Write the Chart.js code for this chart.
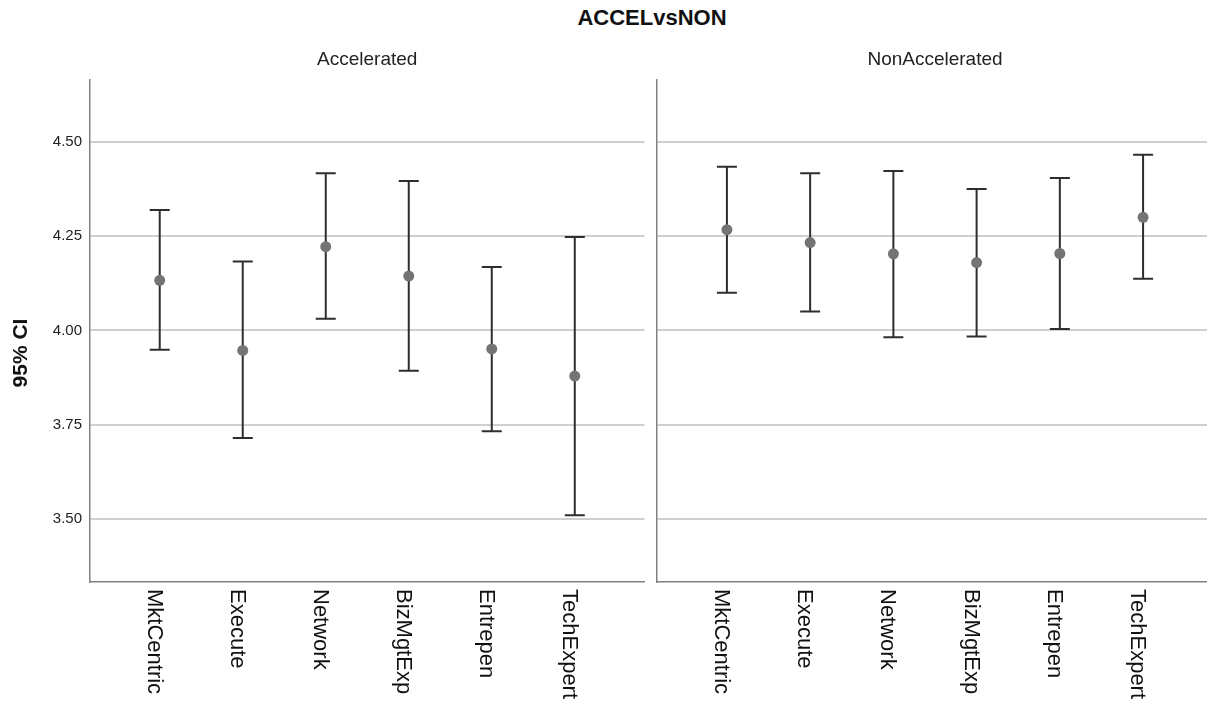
<!DOCTYPE html>
<html>
<head>
<meta charset="utf-8">
<script src="https://cdn.jsdelivr.net/npm/chart.js@4.4.1/dist/chart.umd.min.js"></script>
<style>
  html, body { margin: 0; padding: 0; background: #fff; }
  body { width: 1207px; height: 709px; overflow: hidden; position: relative; }
  #mainTitle {
    position: absolute; left: 652px; top: 5px; transform: translateX(-50%);
    font: bold 22px "Liberation Sans", Arial, sans-serif; color: #111; white-space: nowrap;
  }
  canvas { position: absolute; top: 0; }
  #accelChart { left: 0; }
  #nonChart { left: 650px; }
</style>
</head>
<body>
<div id="mainTitle">ACCELvsNON</div>
<canvas id="accelChart" width="650" height="709"></canvas>
<canvas id="nonChart" width="570" height="709"></canvas>
<script>
const categories = ['MktCentric', 'Execute', 'Network', 'BizMgtExp', 'Entrepen', 'TechExpert'];
const yTicks = [3.50, 3.75, 4.00, 4.25, 4.50];

// Accelerated group: mean and 95% CI bounds
const accelMean = [4.133, 3.947, 4.222, 4.144, 3.951, 3.879];
const accelLow  = [3.949, 3.715, 4.031, 3.893, 3.733, 3.510];
const accelHigh = [4.319, 4.183, 4.417, 4.396, 4.168, 4.248];

// NonAccelerated group
const nonMean = [4.267, 4.233, 4.203, 4.180, 4.204, 4.300];
const nonLow  = [4.100, 4.050, 3.982, 3.984, 4.004, 4.137];
const nonHigh = [4.434, 4.417, 4.423, 4.375, 4.404, 4.466];

const FONT = '"Liberation Sans", Arial, sans-serif';

// draws the CI whiskers, the rotated category labels and the panel title
const errorBarPlugin = {
  id: 'errorBars',
  beforeDatasetsDraw(chart, args, opts) {
    const ctx = chart.ctx;
    const xs = chart.scales.x, ys = chart.scales.y;
    ctx.save();
    ctx.strokeStyle = '#2e2e2e';
    ctx.lineWidth = 2;
    opts.low.forEach((lo, i) => {
      const x = xs.getPixelForValue(i);
      const yLo = ys.getPixelForValue(lo);
      const yHi = ys.getPixelForValue(opts.high[i]);
      ctx.beginPath();
      ctx.moveTo(x, yHi); ctx.lineTo(x, yLo);
      ctx.moveTo(x - 10, yHi); ctx.lineTo(x + 10, yHi);
      ctx.moveTo(x - 10, yLo); ctx.lineTo(x + 10, yLo);
      ctx.stroke();
    });
    ctx.restore();
  },
  afterDraw(chart, args, opts) {
    const ctx = chart.ctx;
    const xs = chart.scales.x;
    const area = chart.chartArea;
    ctx.save();
    ctx.fillStyle = '#111';
    ctx.font = '22px ' + FONT;
    ctx.textAlign = 'left';
    ctx.textBaseline = 'alphabetic';
    categories.forEach((c, i) => {
      const x = xs.getPixelForValue(i);
      ctx.save();
      ctx.translate(x, 589);
      ctx.rotate(Math.PI / 2);
      ctx.fillText(c, 0, 12);
      ctx.restore();
    });
    // panel title
    ctx.font = '19px ' + FONT;
    ctx.textAlign = 'center';
    ctx.textBaseline = 'middle';
    ctx.fillStyle = '#222';
    ctx.fillText(opts.title, (area.left + area.right) / 2, 60);
    // y axis title on the left panel only
    if (opts.yTitle) {
      ctx.save();
      ctx.translate(21, 353);
      ctx.rotate(-Math.PI / 2);
      ctx.font = 'bold 21px ' + FONT;
      ctx.fillStyle = '#111';
      ctx.fillText(opts.yTitle, 0, 0);
      ctx.restore();
    }
    ctx.restore();
  }
};

function makePanel(id, title, mean, low, high, showY) {
  const ctx = document.getElementById(id).getContext('2d');
  return new Chart(ctx, {
    type: 'scatter',
    data: {
      datasets: [{
        label: title,
        data: mean.map((v, i) => ({ x: i, y: v })),
        pointRadius: 5.5,
        pointHoverRadius: 5.5,
        pointBackgroundColor: '#747474',
        pointBorderWidth: 0
      }]
    },
    options: {
      responsive: false,
      devicePixelRatio: 1,
      animation: false,
      layout: { padding: { left: 0, right: showY ? 4 : 7, top: 80, bottom: 127 } },
      plugins: {
        legend: { display: false },
        tooltip: { enabled: false },
        errorBars: { low: low, high: high, title: title, yTitle: showY ? '95% CI' : null }
      },
      scales: {
        x: {
          type: 'linear',
          min: -0.84,
          max: 5.84,
          ticks: { display: false },
          grid: { display: false },
          border: { display: true, color: '#808080', width: 1.5 },
          afterFit: s => { s.height = 0; }
        },
        y: {
          type: 'linear',
          min: 3.333,
          max: 4.664,
          afterBuildTicks: s => { s.ticks = yTicks.map(v => ({ value: v })); },
          ticks: {
            display: showY,
            padding: 8,
            color: '#222',
            font: { size: 15, family: FONT },
            callback: v => v.toFixed(2)
          },
          grid: { color: '#cfcfcf', lineWidth: 2, drawTicks: false },
          border: { display: true, color: '#808080', width: 1.5 },
          afterFit: s => { s.width = showY ? 90 : 7; }
        }
      }
    },
    plugins: [errorBarPlugin]
  });
}

makePanel('accelChart', 'Accelerated', accelMean, accelLow, accelHigh, true);
makePanel('nonChart', 'NonAccelerated', nonMean, nonLow, nonHigh, false);
</script>
</body>
</html>
